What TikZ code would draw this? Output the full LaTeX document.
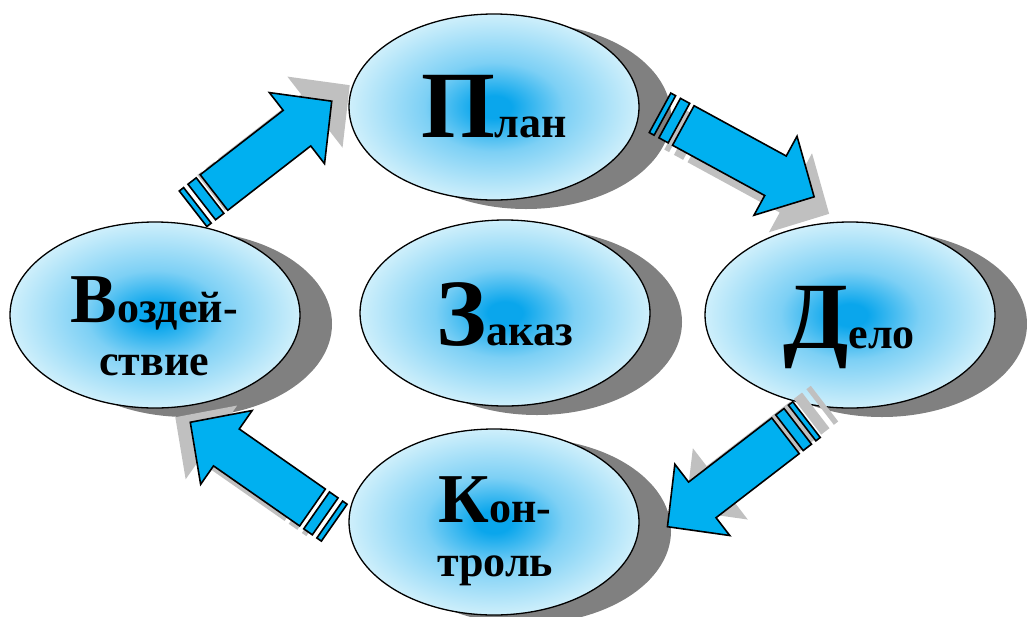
\documentclass[tikz,border=0pt]{standalone}
\usepackage{fontspec}
\setmainfont{Liberation Serif}
\usetikzlibrary{shapes.geometric,shadows}
\definecolor{arrowblue}{RGB}{0,176,240}
\definecolor{ballin}{RGB}{10,166,236}
\definecolor{ballmid}{RGB}{125,208,245}
\definecolor{ballout}{RGB}{206,239,251}
\definecolor{darkshadow}{RGB}{128,128,128}
\definecolor{lightshadow}{RGB}{192,192,192}
\pgfdeclareradialshading{ballshade}{\pgfpoint{0bp}{0bp}}{color(0bp)=(ballin); color(3bp)=(ballin); color(12bp)=(ballmid); color(25bp)=(ballout); color(50bp)=(ballout)}
\newcommand\myarrowshape{(0,-22.5) -- (105,-22.5) -- (105,-45) -- (149,0) -- (105,45) -- (105,22.5) -- (0,22.5) -- cycle
  (-5,-22.5) rectangle (-15.5,22.5) (-21,-22.5) rectangle (-26.5,22.5)}
% #1 tail coordinate, #2 angle, #3 shadow offset
\newcommand\mystripearrow[3]{%
  \fill[arrowshadow, shift={(#1)}, shift={(#3)}, rotate=#2] \myarrowshape;
  \filldraw[blockarrow, shift={(#1)}, rotate=#2] \myarrowshape;}
\tikzset{
  ball/.style={ellipse, draw=black, line width=1.3pt, shading=ballshade,
    minimum width=290pt, minimum height=186pt, inner sep=0pt,
    drop shadow={shadow xshift=32pt, shadow yshift=-9pt, fill=darkshadow, opacity=1}},
  blockarrow/.style={fill=arrowblue, draw=black, line width=1.6pt, line join=miter},
  arrowshadow/.style={fill=lightshadow},
  txt/.style={inner sep=0pt, anchor=base, font=\bfseries},
}
\newcommand\capbig[1]{{\fontsize{95}{95}\selectfont #1}}
\newcommand\capmid[1]{{\fontsize{70}{70}\selectfont #1}}
\newcommand\lowtxt[1]{{\fontsize{44}{44}\selectfont #1}}
\begin{document}
\begin{tikzpicture}[x=1pt, y=-1pt]
  \useasboundingbox (0,0) rectangle (1027,616);
  % ellipses
  \node[ball] (plan)    at (494,107) {};
  \node[ball] (vozd)    at (155,315) {};
  \node[ball] (zakaz)   at (505,313) {};
  \node[ball] (delo)    at (850,315) {};
  \node[ball] (kontrol) at (494,522) {};
  % texts
  \node[txt] (plant)  at (494,137) {\capbig{П}\lowtxt{лан}};
  \node[txt] (zakazt) at (505,345) {\capbig{З}\lowtxt{аказ}};
  \node[txt] (delot)  at (849,348) {\capbig{Д}\lowtxt{ело}};
  \node[txt] (vozdt1) at (154,322) {\capmid{В}\lowtxt{оздей-}};
  \node[txt] (vozdt2) at (154,375) {\lowtxt{ствие}};
  \node[txt] (kontt1) at (495,522) {\capmid{К}\lowtxt{он-}};
  \node[txt] (kontt2) at (495,576) {\lowtxt{троль}};
  % arrows
  \coordinate (a1) at (214,192.5);
  \coordinate (a2) at (683.3,125.5);
  \coordinate (a3) at (785.5,435.8);
  \coordinate (a4) at (312.5,507.5);
  \mystripearrow{a1}{37.8}{18,-16}
  \mystripearrow{a2}{-28.6}{15,17}
  \mystripearrow{a3}{217.6}{18,-16}
  \mystripearrow{a4}{145.1}{-15,-5}
\end{tikzpicture}
\end{document}
